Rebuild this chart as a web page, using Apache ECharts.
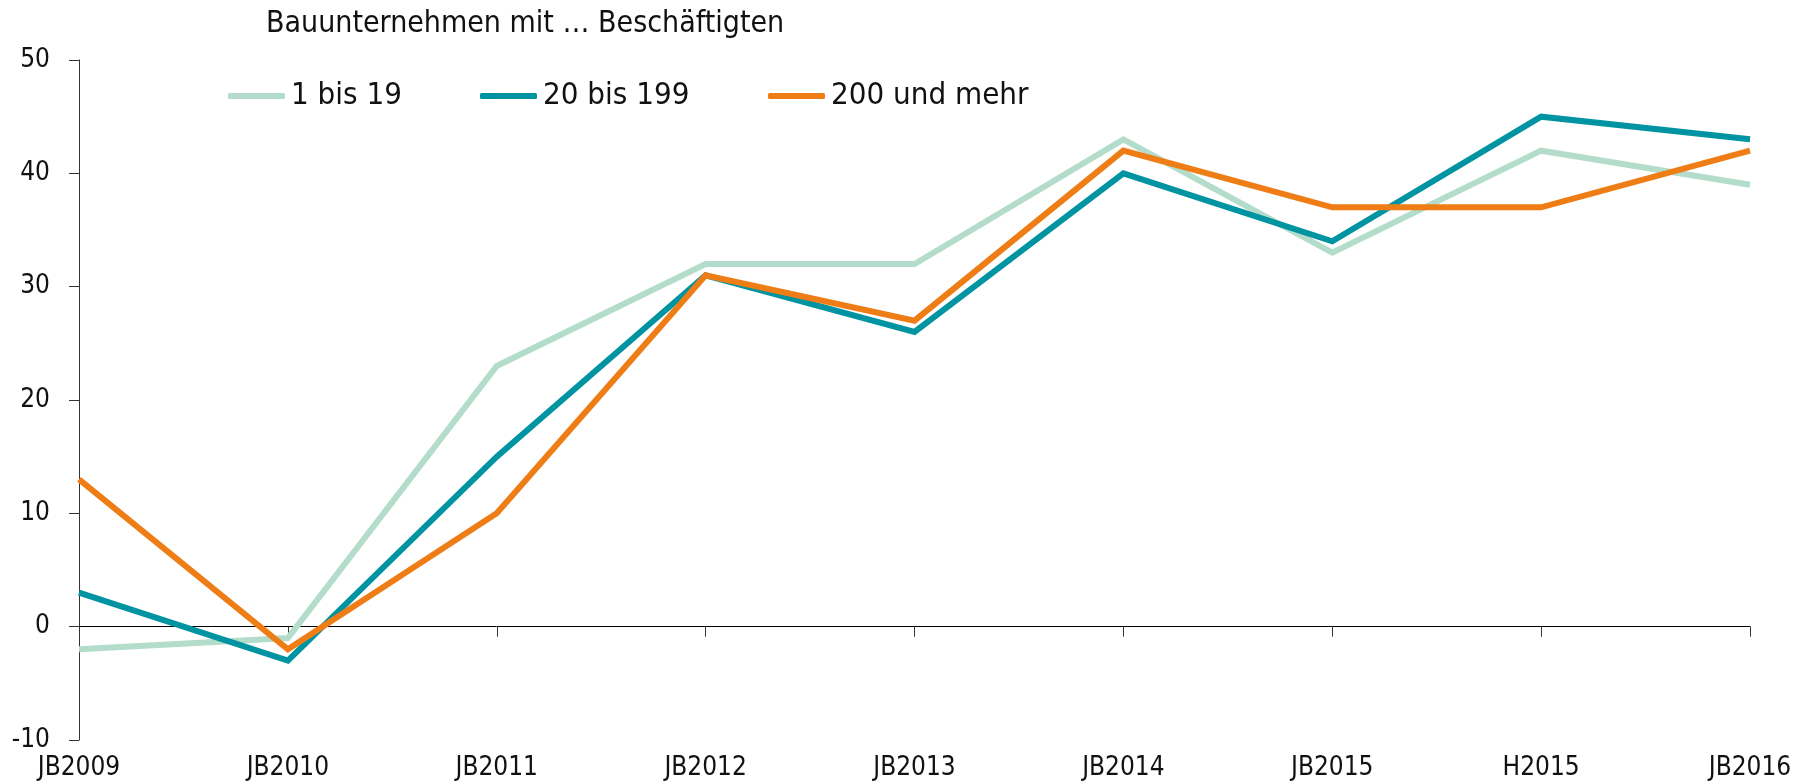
<!DOCTYPE html>
<html>
<head>
<meta charset="utf-8">
<script src="https://cdn.jsdelivr.net/npm/echarts@6/dist/echarts.min.js"></script>
<style>
  html, body { margin: 0; padding: 0; background: #fff; }
  #main { width: 1812px; height: 784px; }
</style>
</head>
<body>
<div id="main"></div>
<script>
// Kategorien (x-Achse)
const categories = ['JB2009', 'JB2010', 'JB2011', 'JB2012', 'JB2013', 'JB2014', 'JB2015', 'H2015', 'JB2016'];
// Reihen
const small = [-2, -1, 23, 32, 32, 43, 33, 42, 39];     // 1 bis 19
const medium = [3, -3, 15, 31, 26, 40, 34, 45, 43];     // 20 bis 199
const large = [13, -2, 10, 31, 27, 42, 37, 37, 42];     // 200 und mehr
const seriesNames = ['1 bis 19', '20 bis 199', '200 und mehr'];
const colors = ['#b3dccb', '#0093a1', '#ef7d16'];
const legendLeft = [228, 480, 768]; // Position je Legenden-Eintrag

const font = '"DejaVu Sans Condensed", "Open Sans", sans-serif';

const chart = echarts.init(document.getElementById('main'));

const mkSeries = (name, data, color) => ({
  name: name,
  type: 'line',
  data: data,
  xAxisIndex: 0,
  symbol: 'none',
  lineStyle: { color: color, width: 6, join: 'miter' },
  itemStyle: { color: color },
  z: 3
});

// jede Legende einzeln platziert
const legends = seriesNames.map((name, i) => ({
  left: legendLeft[i],
  top: 78,
  padding: 0,
  itemWidth: 57,
  itemHeight: 6,
  itemGap: 0,
  icon: 'roundRect',
  data: [name],
  textStyle: { fontFamily: font, fontSize: 31, lineHeight: 36, color: '#111', padding: [0, 0, 0, 1] }
}));

chart.setOption({
  animation: false,
  title: {
    text: 'Bauunternehmen mit … Beschäftigten',
    left: 266,
    top: 9,
    padding: 0,
    textStyle: { fontFamily: font, fontSize: 30, fontWeight: 'normal', color: '#111' }
  },
  legend: legends,
  grid: { left: 79, right: 62, top: 60, bottom: 44, containLabel: false },
  xAxis: [
    {
      // Beschriftung unten
      type: 'category',
      data: categories,
      boundaryGap: false,
      position: 'bottom',
      axisLine: { show: false },
      axisTick: { show: false },
      axisLabel: { fontFamily: font, fontSize: 26, color: '#111', margin: 15 }
    },
    {
      // Nulllinie mit Ticks
      type: 'category',
      data: categories,
      boundaryGap: false,
      position: 'bottom',
      axisLine: { show: true, onZero: true, onZeroAxisIndex: 0, lineStyle: { color: '#000', width: 1 } },
      axisTick: { show: true, inside: false, length: 10, lineStyle: { color: '#333' } },
      axisLabel: { show: false },
      splitLine: { show: false }
    }
  ],
  yAxis: {
    type: 'value',
    min: -10,
    max: 50,
    interval: 10,
    axisLine: { show: true, lineStyle: { color: '#333', width: 1 } },
    axisTick: { show: true, length: 10, lineStyle: { color: '#333' } },
    axisLabel: { fontFamily: font, fontSize: 26, color: '#111', margin: 29 },
    splitLine: { show: false }
  },
  series: [
    mkSeries(seriesNames[0], small, colors[0]),
    mkSeries(seriesNames[1], medium, colors[1]),
    mkSeries(seriesNames[2], large, colors[2])
  ]
});
</script>
</body>
</html>
